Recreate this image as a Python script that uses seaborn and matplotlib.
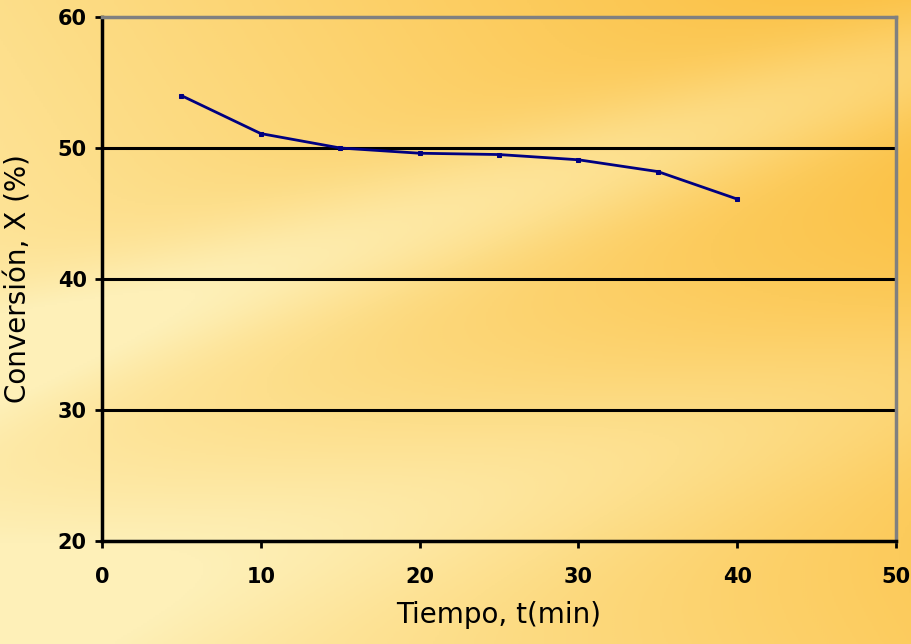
"""
Conversion vs time chart (Excel-style, yellow background)
"""

import numpy as np
import pandas as pd
import seaborn as sns
import matplotlib.pyplot as plt
from matplotlib.colors import LinearSegmentedColormap


# -------------------------------------------------
# DATA
# -------------------------------------------------

tiempo = [5, 10, 15, 20, 25, 30, 35, 40]
conversion = [54.0, 51.1, 50.0, 49.6, 49.5, 49.1, 48.2, 46.1]

x_ticks = [0, 10, 20, 30, 40, 50]
y_ticks = [20, 30, 40, 50, 60]

df = pd.DataFrame({"Tiempo": tiempo, "Conversion": conversion})


# -------------------------------------------------
# FIGURE + BACKGROUND
# -------------------------------------------------

sns.set_theme(style="white")
plt.rcParams["font.family"] = ["DejaVu Sans"]
plt.rcParams["text.color"] = "black"
plt.rcParams["axes.labelcolor"] = "black"
plt.rcParams["xtick.color"] = "black"
plt.rcParams["ytick.color"] = "black"

fig = plt.figure(figsize=(9.12, 6.44), dpi=100)

bg = fig.add_axes([0, 0, 1, 1], zorder=-10)
h, w = 322, 456
yy, xx = np.mgrid[0:h, 0:w]
u = xx / w
v = yy / h
# warm orange toward top right, lighter streaks running diagonally
base = 0.55 * u + 0.25 * (1 - v) + 0.1
streak = np.exp(-((v - 0.55 + 0.45 * u) ** 2) / 0.01) * 0.35
streak2 = np.exp(-((v - 0.95 + 0.35 * u) ** 2) / 0.02) * 0.25
field = np.clip(base - streak - streak2, 0, 1)
cmap = LinearSegmentedColormap.from_list(
    "warm", ["#FEF0B8", "#FDDF8C", "#FCCB5C", "#FBB830"]
)
bg.imshow(field, cmap=cmap, aspect="auto", extent=[0, 1, 0, 1], vmin=0, vmax=1)
bg.axis("off")


# -------------------------------------------------
# MAIN PLOT
# -------------------------------------------------

ax = fig.add_axes([0.1118, 0.16, 0.8707, 0.8136])
ax.patch.set_alpha(0)

for yv in [30, 40, 50]:
    ax.axhline(yv, color="black", lw=2.2, zorder=1)

sns.lineplot(
    data=df,
    x="Tiempo",
    y="Conversion",
    color="#000080",
    lw=2,
    marker="s",
    markersize=3.5,
    markeredgecolor="#000080",
    ax=ax,
    zorder=3,
)

ax.set_xlim(0, 50)
ax.set_ylim(20, 60)
ax.set_xticks(x_ticks)
ax.set_yticks(y_ticks)
ax.tick_params(axis="both", labelsize=15, length=5, width=2,
               direction="out", bottom=True, left=True, pad=14)
ax.tick_params(axis="y", pad=6)
for lab in ax.get_xticklabels() + ax.get_yticklabels():
    lab.set_fontweight("bold")

for side in ["left", "bottom"]:
    ax.spines[side].set_color("black")
    ax.spines[side].set_linewidth(2.5)
for side in ["top", "right"]:
    ax.spines[side].set_color("#808080")
    ax.spines[side].set_linewidth(2.5)

ax.set_xlabel("Tiempo, t(min)", fontsize=20, labelpad=10)
ax.set_ylabel("Conversión, X (%)", fontsize=20, labelpad=18)

plt.savefig("out.png", dpi=100)
